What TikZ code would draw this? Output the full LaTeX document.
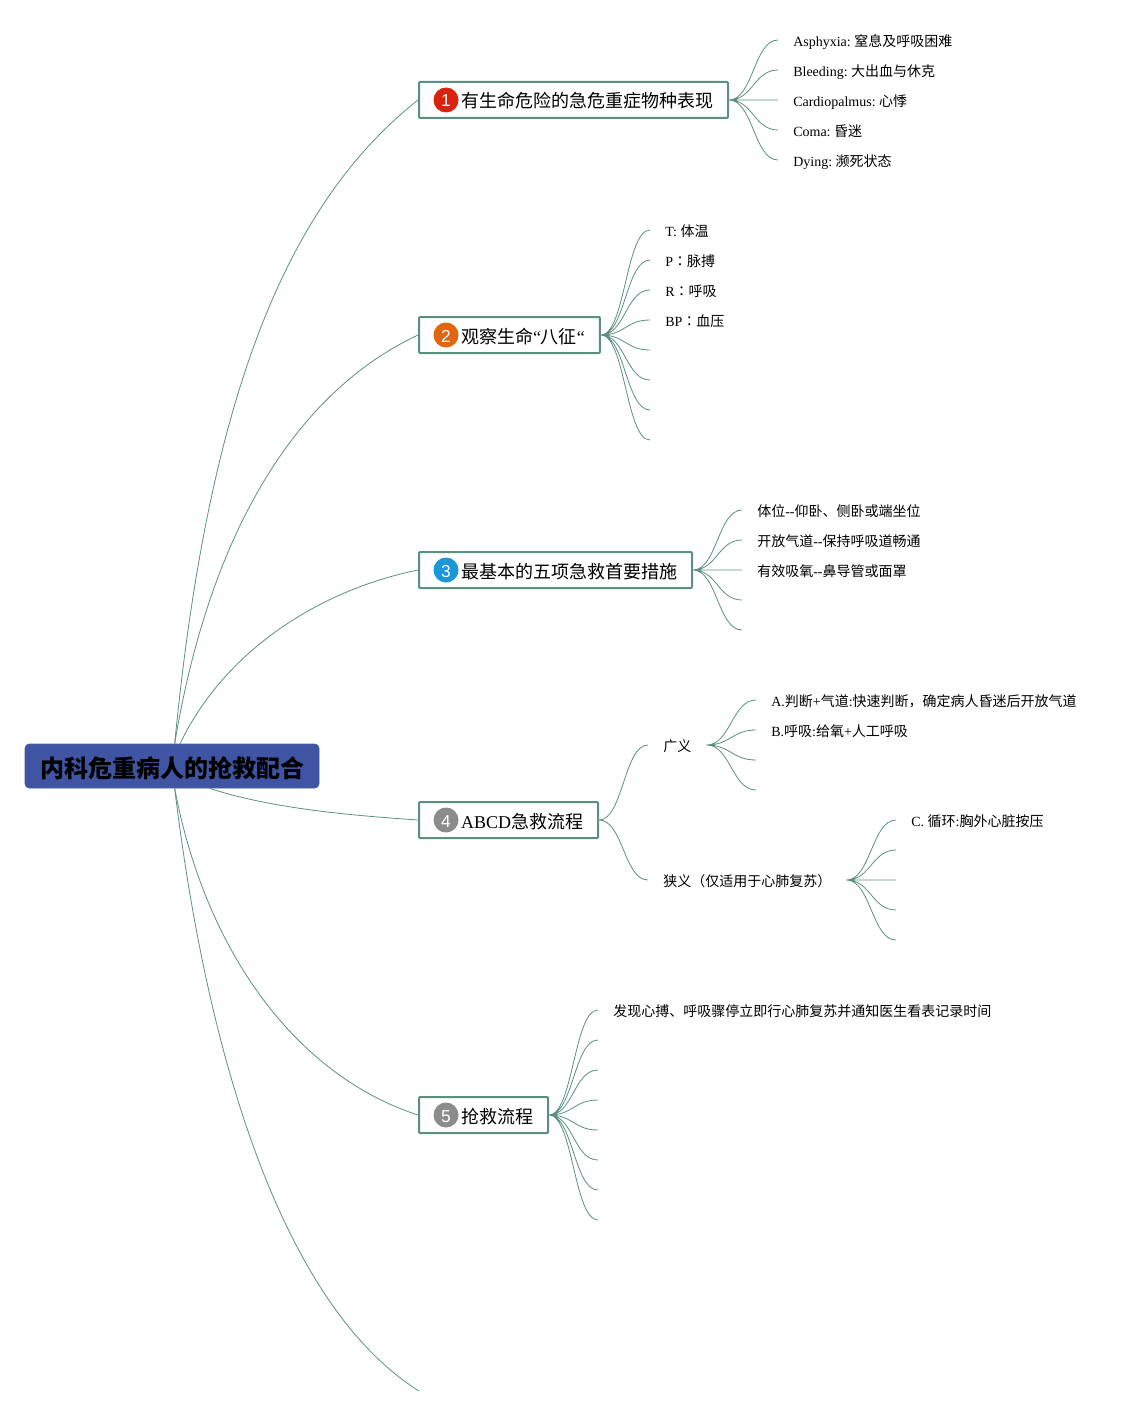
\documentclass[tikz,border=0pt]{standalone}
\usepackage{fontspec}
\setmainfont{Liberation Serif}
\setsansfont{Liberation Sans}
\newfontfamily\cjk{Noto Sans CJK SC}
\newfontfamily\cjktc{Noto Sans CJK TC}
\newcommand{\zh}[1]{{\cjk #1}}
\newcommand{\zhcolon}{{\cjktc ：}}
\definecolor{linegreen}{HTML}{5B9080}
\definecolor{rootblue}{HTML}{3F55A3}
\definecolor{badgered}{HTML}{D9230F}
\definecolor{badgeorange}{HTML}{E2650F}
\definecolor{badgeblue}{HTML}{1B96D8}
\definecolor{badgegray}{HTML}{8C8C8C}
\tikzset{
	rootbox/.style = { draw = rootblue!80!linegreen, fill = rootblue, rounded corners = 3pt,
		minimum width = 220.5pt, minimum height = 33pt, inner sep = 0pt,
		text height = 20pt, text depth = 3pt,
		font = \fontsize{18}{22}\selectfont\cjk\bfseries },
	topic/.style = { draw = linegreen, line width = 1.5pt, fill = white, rounded corners = .7pt,
		anchor = west, minimum height = 27pt, inner xsep = 11.25pt, inner ysep = 0pt,
		text height = 15pt, text depth = 3pt,
		font = \fontsize{13.5}{16}\selectfont,
		execute at begin node = {\hspace{20.25pt}} },
	badge/.style = { circle, minimum size = 18.75pt, inner sep = 0pt, text = white,
		text height = 10.5pt, text depth = 0pt,
		font = \fontsize{13}{15}\selectfont\sffamily },
	leaf/.style = { anchor = west, inner xsep = 11.25pt, inner ysep = 0pt,
		text height = 12pt, text depth = 2.5pt,
		font = \fontsize{10.5}{13}\selectfont\frenchspacing },
	stem/.style = { draw = linegreen, line width = .6pt },
	branch/.style = { stem,
		to path = { (\tikztostart.0) .. controls ([xshift=18pt]\tikztostart.0)
			and ([xshift=-18pt]\tikztotarget.180) .. (\tikztotarget.180) } }
}

\begin{document}
\begin{tikzpicture} [ x = .75pt, y = -.75pt ]
	\useasboundingbox (0,0) rectangle (1137,1416);

	% centre and main topics
	\node [rootbox] (root) at (172,766) {内科危重病人的抢救配合};
	\node [topic] (1) at (418,100) {\zh{有生命危险的急危重症物种表现}};
	\node [topic] (2) at (418,335) {\zh{观察生命}“\zh{八征}“};
	\node [topic] (3) at (418,570) {\zh{最基本的五项急救首要措施}};
	\node [topic] (4) at (418,820) {ABCD\zh{急救流程}};
	\node [topic] (5) at (418,1115) {\zh{抢救流程}};
	\coordinate (6) at (419,1391);

	\node [badge, fill = badgered] (b1) at (446,100) {1};
	\node [badge, fill = badgeorange] (b2) at (446,335) {2};
	\node [badge, fill = badgeblue] (b3) at (446,570) {3};
	\node [badge, fill = badgegray] (b4) at (446,820) {4};
	\node [badge, fill = badgegray] (b5) at (446,1115) {5};

	% first topic
	\node [leaf] (11) at (778,40) {Asphyxia: \zh{窒息及呼吸困难}};
	\node [leaf] (12) at (778,70) {Bleeding: \zh{大出血与休克}};
	\node [leaf] (13) at (778,100) {Cardiopalmus: \zh{心悸}};
	\node [leaf] (14) at (778,130) {Coma: \zh{昏迷}};
	\node [leaf] (15) at (778,160) {Dying: \zh{濒死状态}};

	% second topic
	\node [leaf] (21) at (650,230) {T: \zh{体温}};
	\node [leaf] (22) at (650,260) {P\zhcolon\zh{脉搏}};
	\node [leaf] (23) at (650,290) {R\zhcolon\zh{呼吸}};
	\node [leaf] (24) at (650,320) {BP\zhcolon\zh{血压}};
	\coordinate (25) at (650,350);
	\coordinate (26) at (650,380);
	\coordinate (27) at (650,410);
	\coordinate (28) at (650,440);

	% third topic
	\node [leaf] (31) at (742,510) {\zh{体位}-{}-\zh{仰卧、侧卧或端坐位}};
	\node [leaf] (32) at (742,540) {\zh{开放气道}-{}-\zh{保持呼吸道畅通}};
	\node [leaf] (33) at (742,570) {\zh{有效吸氧}-{}-\zh{鼻导管或面罩}};
	\coordinate (34) at (742,600);
	\coordinate (35) at (742,630);

	% fourth topic
	\node [leaf] (41) at (648,745) {\zh{广义}};
	\node [leaf] (42) at (648,880) {\zh{狭义（仅适用于心肺复苏）}};
	\node [leaf] (411) at (756,700) {A.\zh{判断}+\zh{气道}:\zh{快速判断，确定病人昏迷后开放气道}};
	\node [leaf] (412) at (756,730) {B.\zh{呼吸}:\zh{给氧}+\zh{人工呼吸}};
	\coordinate (413) at (756,760);
	\coordinate (414) at (756,790);
	\node [leaf] (421) at (896,820) {C. \zh{循环}:\zh{胸外心脏按压}};
	\coordinate (422) at (896,850);
	\coordinate (423) at (896,880);
	\coordinate (424) at (896,910);
	\coordinate (425) at (896,940);

	% fifth topic
	\node [leaf] (51) at (598,1010) {\zh{发现心搏、呼吸骤停立即行心肺复苏并通知医生看表记录时间}};
	\coordinate (52) at (598,1040);
	\coordinate (53) at (598,1070);
	\coordinate (54) at (598,1100);
	\coordinate (55) at (598,1130);
	\coordinate (56) at (598,1160);
	\coordinate (57) at (598,1190);
	\coordinate (58) at (598,1220);

	% from the centre
	\draw [stem] ([xshift=2pt]root.north) .. controls (208,400) and (285,205) .. (1.west);
	\draw [stem] ([xshift=2pt]root.north) .. controls (205,560) and (280,400) .. (2.west);
	\draw [stem] ([xshift=6pt]root.north) .. controls (225,650) and (320,590) .. (3.west);
	\draw [stem] ([xshift=28pt]root.south) .. controls (270,808) and (345,815) .. (4.west);
	\draw [stem] ([xshift=2pt]root.south) .. controls (205,950) and (295,1075) .. (5.west);
	\draw [stem] ([xshift=2pt]root.south) .. controls (210,1080) and (290,1310) .. (6);

	% branches
	\draw [branch] (1) to (11) (1) to (12) (1) to (13) (1) to (14) (1) to (15);
	\draw [branch] (2) to (21) (2) to (22) (2) to (23) (2) to (24)
		(2) to (25) (2) to (26) (2) to (27) (2) to (28);
	\draw [branch] (3) to (31) (3) to (32) (3) to (33) (3) to (34) (3) to (35);
	\draw [branch] (4) to (41) (4) to (42);
	\draw [branch] (41) to (411) (41) to (412) (41) to (413) (41) to (414);
	\draw [branch] (42) to (421) (42) to (422) (42) to (423) (42) to (424) (42) to (425);
	\draw [branch] (5) to (51) (5) to (52) (5) to (53) (5) to (54)
		(5) to (55) (5) to (56) (5) to (57) (5) to (58);
\end{tikzpicture}
\end{document}
